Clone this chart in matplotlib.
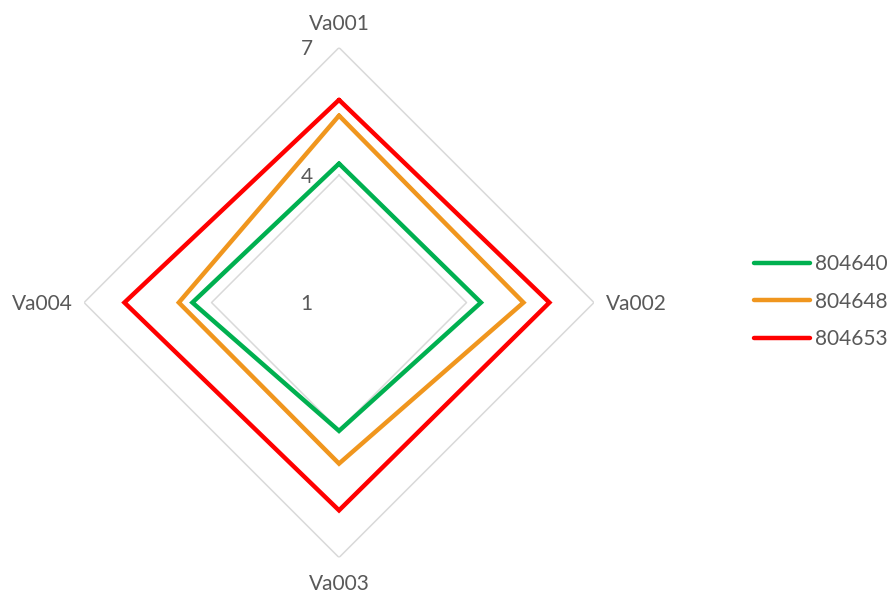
import numpy as np
import matplotlib.pyplot as plt

categories = ['Va001', 'Va002', 'Va003', 'Va004']
series_names = ['804640', '804648', '804653']
values_804640 = [4.27, 4.34, 4.02, 4.45]
values_804648 = [5.40, 5.34, 4.79, 4.77]
values_804653 = [5.77, 5.95, 5.89, 6.05]
r_ticks = [1, 4, 7]

colors = ['#00B050', '#F0961E', '#FF0000']
text_color = '#595959'
grid_color = '#D9D9D9'

plt.rcParams['font.family'] = ['Lato', 'DejaVu Sans']
FS = 15

fig = plt.figure(figsize=(8.95, 5.95), dpi=100)
ax = fig.add_axes([0.0939, 0.063, 0.5698, 0.857], projection='polar')
ax.set_theta_offset(np.pi / 2)
ax.set_theta_direction(-1)
ax.set_ylim(r_ticks[0], r_ticks[-1])
ax.grid(False)
ax.spines['polar'].set_visible(False)
ax.set_xticks([])
ax.set_yticks([])

angles = np.linspace(0, 2 * np.pi, len(categories), endpoint=False)
closed = np.append(angles, angles[0])

# diamond gridlines
for r in r_ticks[1:]:
    ax.plot(closed, [r] * len(closed), color=grid_color, lw=1.1, zorder=1)

# radial value labels
for r in r_ticks:
    ax.annotate(str(r), xy=(0, r), xytext=(-19, -5.4), textcoords='offset points',
                ha='right', va='baseline', fontsize=FS, color=text_color)

# category labels (offsets in points from the outer vertex)
offsets = [(0, 13), (8.5, -5.4), (0, -23.5), (-8, -5.4)]
haligns = ['center', 'left', 'center', 'right']
for ang, lab, off, ha in zip(angles, categories, offsets, haligns):
    ax.annotate(lab, xy=(ang, r_ticks[-1]), xytext=off, textcoords='offset points',
                ha=ha, va='baseline', fontsize=FS, color=text_color,
                annotation_clip=False)

for vals, name, c in zip([values_804640, values_804648, values_804653], series_names, colors):
    ax.plot(closed, vals + vals[:1], color=c, lw=3.2, label=name, zorder=3,
            solid_joinstyle='miter', solid_capstyle='round')

leg = fig.legend(loc='center left', bbox_to_anchor=(0.831, 0.493), frameon=False,
                 fontsize=FS, handlelength=2.7, handletextpad=0.24, labelspacing=0.85,
                 labelcolor=text_color, borderpad=0)

fig.savefig('out.png', dpi=100)
